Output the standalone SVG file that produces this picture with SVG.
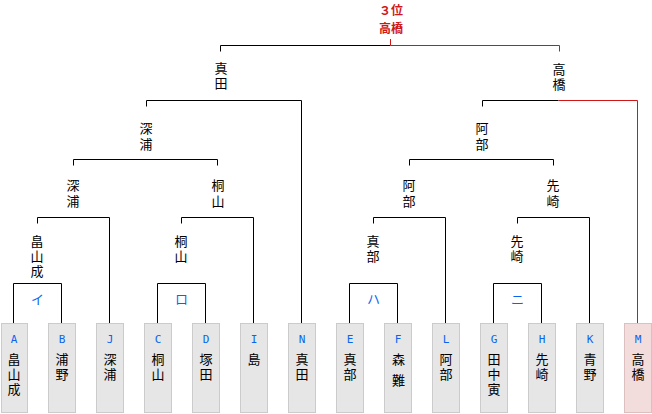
<svg xmlns="http://www.w3.org/2000/svg" width="652" height="414" viewBox="0 0 652 414">
<style>
.bg{fill:#ffffff}
.box{fill:#e6e6e6;stroke:#cbcbcb;stroke-width:1}
.box.win{fill:#f2dcdc;stroke:#dcc0c0}
.ln{fill:none;stroke:#000;stroke-width:1}
.rd{fill:none;stroke:#d01818;stroke-width:1}
text{font-family:"Noto Sans CJK JP","Noto Sans CJK SC",sans-serif;font-size:13px;fill:#000}
.v{writing-mode:vertical-rl;text-anchor:start}
.s2{letter-spacing:2px}
.s3{letter-spacing:3px}
.lt{font-family:"DejaVu Sans Mono","Liberation Mono",monospace;font-size:11px;fill:#0a64f0;text-anchor:middle}
.bl{fill:#0a64f0;text-anchor:middle}
.ttl{fill:#d01818;font-weight:bold;text-anchor:middle;font-size:12px}
</style>
<rect class="bg" x="0" y="0" width="652" height="414"/>
<g id="connectors">
<path class="ln" d="M13.5,323 V283.5 H61.5 V323"/>
<path class="ln" d="M157.5,323 V283.5 H205.5 V323"/>
<path class="ln" d="M349.5,323 V283.5 H397.5 V323"/>
<path class="ln" d="M493.5,323 V283.5 H541.5 V323"/>
<path class="ln" d="M37.5,223.5 V217.5 H109.5 V323"/>
<path class="ln" d="M181.5,223.5 V217.5 H253.5 V323"/>
<path class="ln" d="M373.5,223.5 V217.5 H445.5 V323"/>
<path class="ln" d="M517.5,223.5 V217.5 H589.5 V323"/>
<path class="ln" d="M73.5,165.5 V159.5 H217.5 V165.5"/>
<path class="ln" d="M409.5,165.5 V159.5 H553.5 V165.5"/>
<path class="ln" d="M146.5,106.5 V100.5 H301.5 V323"/>
<path class="ln" d="M482.5,106.5 V100.5 H558.5"/>
<path class="rd" d="M558.5,100.5 H637.5 V323"/>
<path class="ln" d="M220.5,51.5 V45.5 H390.5"/>
<path class="rd" d="M390.5,39 V45.5 H559.5 V51.5"/>
</g>
<g id="title"><text class="ttl" x="391" y="15.2"><tspan x="391">３位</tspan><tspan x="391" dy="17.6">高橋</tspan></text></g>
<g id="w-final-left"><text class="v s2" x="221" y="62">真田</text></g>
<g id="w-final-right"><text class="v s2" x="559" y="62.5">高橋</text></g>
<g id="w-l4-left"><text class="v s3" x="146" y="121.5">深浦</text></g>
<g id="w-l4-right"><text class="v s3" x="482" y="121.5">阿部</text></g>
<g id="w-l3-a"><text class="v s3" x="73" y="178.5">深浦</text></g>
<g id="w-l3-b"><text class="v s3" x="218" y="178.5">桐山</text></g>
<g id="w-l3-c"><text class="v s3" x="409" y="178.5">阿部</text></g>
<g id="w-l3-d"><text class="v s3" x="553" y="178.5">先崎</text></g>
<g id="w-l2-a"><text class="v s2" x="37" y="235">畠山成</text></g>
<g id="w-l2-b"><text class="v s2" x="181" y="235">桐山</text></g>
<g id="w-l2-c"><text class="v s2" x="373" y="235">真部</text></g>
<g id="w-l2-d"><text class="v s2" x="517" y="235">先崎</text></g>
<g id="m-i"><text class="bl" x="37.5" y="303.5">イ</text></g>
<g id="m-ro"><text class="bl" x="181.5" y="303.5">ロ</text></g>
<g id="m-ha"><text class="bl" x="373.5" y="303.5">ハ</text></g>
<g id="m-ni"><text class="bl" x="517.5" y="303.5">ニ</text></g>
<g id="p-A"><rect class="box" x="1.5" y="323.5" width="26" height="89"/><text class="lt" x="14" y="343">A</text><text class="v s2" x="14" y="352.5">畠山成</text></g>
<g id="p-B"><rect class="box" x="48.5" y="323.5" width="27" height="89"/><text class="lt" x="62" y="343">B</text><text class="v s2" x="62" y="352.5">浦野</text></g>
<g id="p-J"><rect class="box" x="96.5" y="323.5" width="27" height="89"/><text class="lt" x="110" y="343">J</text><text class="v s2" x="110" y="352.5">深浦</text></g>
<g id="p-C"><rect class="box" x="144.5" y="323.5" width="27" height="89"/><text class="lt" x="158" y="343">C</text><text class="v s2" x="158" y="352.5">桐山</text></g>
<g id="p-D"><rect class="box" x="192.5" y="323.5" width="27" height="89"/><text class="lt" x="206" y="343">D</text><text class="v s2" x="206" y="352.5">塚田</text></g>
<g id="p-I"><rect class="box" x="240.5" y="323.5" width="27" height="89"/><text class="lt" x="254" y="343">I</text><text class="v s2" x="254" y="352.5">島</text></g>
<g id="p-N"><rect class="box" x="288.5" y="323.5" width="27" height="89"/><text class="lt" x="302" y="343">N</text><text class="v s2" x="302" y="352.5">真田</text></g>
<g id="p-E"><rect class="box" x="336.5" y="323.5" width="27" height="89"/><text class="lt" x="350" y="343">E</text><text class="v s2" x="350" y="352.5">真部</text></g>
<g id="p-F"><rect class="box" x="384.5" y="323.5" width="27" height="89"/><text class="lt" x="398" y="343">F</text><text class="v" x="398.5" y="352.5" style="letter-spacing:8px">森難</text></g>
<g id="p-L"><rect class="box" x="432.5" y="323.5" width="27" height="89"/><text class="lt" x="446" y="343">L</text><text class="v s2" x="446" y="352.5">阿部</text></g>
<g id="p-G"><rect class="box" x="480.5" y="323.5" width="27" height="89"/><text class="lt" x="494" y="343">G</text><text class="v s2" x="494" y="352.5">田中寅</text></g>
<g id="p-H"><rect class="box" x="528.5" y="323.5" width="27" height="89"/><text class="lt" x="542" y="343">H</text><text class="v s2" x="542" y="352.5">先崎</text></g>
<g id="p-K"><rect class="box" x="576.5" y="323.5" width="27" height="89"/><text class="lt" x="590" y="343">K</text><text class="v s2" x="590" y="352.5">青野</text></g>
<g id="p-M"><rect class="box win" x="624.5" y="323.5" width="27" height="89"/><text class="lt" x="638" y="343">M</text><text class="v s2" x="638" y="352.5">高橋</text></g>
</svg>
